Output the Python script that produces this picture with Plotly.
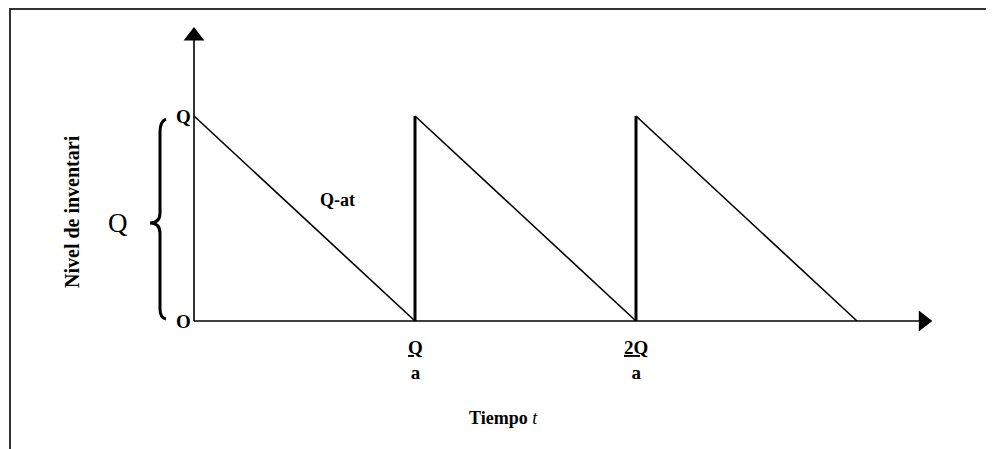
import plotly.graph_objects as go

# ---- data (Q = 1, time in units of Q/a) ----
Q = 1.0
cycle_starts = [0, 1, 2]          # times at which inventory is replenished
cycle_ends = [1, 2, 3]            # times at which inventory reaches zero
tick_times = [1, 2]
tick_labels = ["<b><u>Q</u></b><br><b>a</b>", "<b><u>2Q</u></b><br><b>a</b>"]
x_axis_end = 3.30
y_axis_end = 1.39

# pixel mapping helpers (page body has an 8px margin; figure uses zero margins)
OFF = 8
W, H = 994 - OFF, 449 - OFF
X0PX, UNITPX = 194 - OFF, 221
Y0PX, QPX = 321 - OFF, 205
xr = [(0 - X0PX) / UNITPX, (W - X0PX) / UNITPX]
yr = [(Y0PX - H) / QPX, Y0PX / QPX]


def px_x(p):
    return (p - OFF - X0PX) / UNITPX


def px_y(p):
    return (Y0PX - (p - OFF)) / QPX


fig = go.Figure()

# depletion ramps
rx, ry = [], []
for s, e in zip(cycle_starts, cycle_ends):
    rx += [s, e, None]
    ry += [Q, 0, None]
fig.add_trace(go.Scatter(x=rx, y=ry, mode="lines", line=dict(color="black", width=1.6),
                         hoverinfo="skip", showlegend=False))

# replenishment verticals
vx, vy = [], []
for e in cycle_ends[:-1]:
    vx += [e, e, None]
    vy += [0, Q, None]
fig.add_trace(go.Scatter(x=vx, y=vy, mode="lines", line=dict(color="black", width=3),
                         hoverinfo="skip", showlegend=False))

# axes
fig.add_trace(go.Scatter(x=[0, 0, None, 0, x_axis_end], y=[0, y_axis_end, None, 0, 0],
                         mode="lines", line=dict(color="black", width=1.6),
                         hoverinfo="skip", showlegend=False))
fig.add_trace(go.Scatter(x=[0], y=[y_axis_end], mode="markers",
                         marker=dict(symbol="triangle-up", size=18, color="black"),
                         hoverinfo="skip", showlegend=False))
fig.add_trace(go.Scatter(x=[x_axis_end], y=[0], mode="markers",
                         marker=dict(symbol="triangle-right", size=18, color="black"),
                         hoverinfo="skip", showlegend=False))

serif = "Liberation Serif, Times New Roman, serif"

# brace on the left
bx = px_x(160)
btip = px_x(150)
bend = px_x(166)
mid = px_y(223)
brace = (f"M {bend},{Q*0.985} Q {bx},{Q*0.975} {bx},{Q*0.92} L {bx},{mid+0.05} "
         f"Q {bx},{mid} {btip},{mid} Q {bx},{mid} {bx},{mid-0.05} L {bx},{0.06} "
         f"Q {bx},{0.015} {bend},{0.01}")
fig.add_shape(type="path", path=brace, xref="x", yref="y",
              line=dict(color="black", width=3))

# frame
fig.add_shape(type="rect", xref="paper", yref="paper",
              x0=(10 - OFF) / W, x1=1.05, y0=-0.05, y1=1 - (9 - OFF) / H,
              line=dict(color="#333333", width=2))

ann = []
ann.append(dict(x=0, y=Q, xref="x", yref="y", text="<b>Q</b>", showarrow=False,
                xanchor="right", xshift=-1, font=dict(size=19, family=serif, color="black")))
ann.append(dict(x=0, y=0, xref="x", yref="y", text="<b>O</b>", showarrow=False,
                xanchor="right", xshift=-1, font=dict(size=19, family=serif, color="black")))
for t, lab in zip(tick_times, tick_labels):
    ann.append(dict(x=t, y=0, xref="x", yref="y", text=lab, showarrow=False,
                    yanchor="top", yshift=-14, align="center",
                    font=dict(size=19, family=serif, color="black")))
ann.append(dict(x=px_x(503), y=px_y(418), xref="x", yref="y",
                text="<b>Tiempo</b> <i>t</i>", showarrow=False,
                font=dict(size=18, family=serif, color="black")))
ann.append(dict(x=px_x(337), y=px_y(200), xref="x", yref="y",
                text="<b>Q-at</b>", showarrow=False,
                font=dict(size=18, family=serif, color="black")))
ann.append(dict(x=px_x(118), y=mid, xref="x", yref="y",
                text="Q", showarrow=False,
                font=dict(size=27, family=serif, color="black")))
ann.append(dict(x=px_x(72), y=px_y(212), xref="x", yref="y",
                text="<b>Nivel de inventari</b>", showarrow=False, textangle=-90,
                font=dict(size=20, family=serif, color="black")))

fig.update_layout(
    width=W, height=H, margin=dict(l=0, r=0, t=0, b=0),
    paper_bgcolor="white", plot_bgcolor="white",
    xaxis=dict(range=xr, visible=False, fixedrange=True),
    yaxis=dict(range=yr, visible=False, fixedrange=True),
    annotations=ann, showlegend=False,
    font=dict(family=serif),
)

fig.write_html("out.html")
